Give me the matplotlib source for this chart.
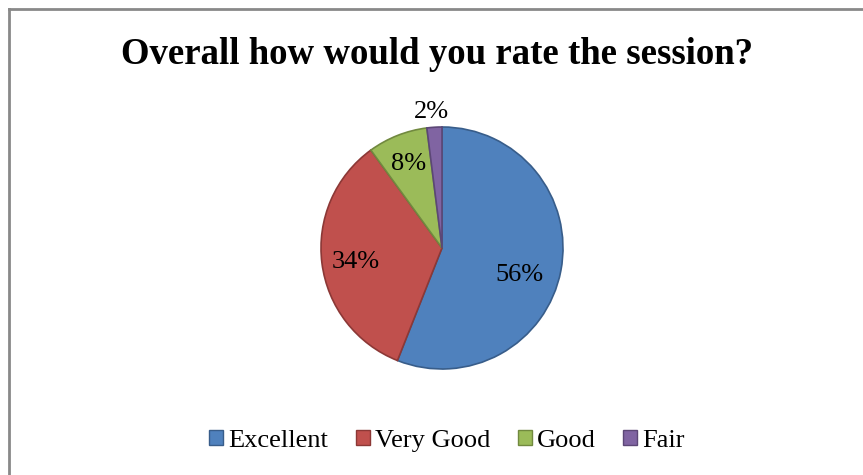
import numpy as np
import matplotlib
matplotlib.use('Agg')
import matplotlib.pyplot as plt
from matplotlib.patches import Patch
from matplotlib.lines import Line2D

# survey answers
labels = ['Excellent', 'Very Good', 'Good', 'Fair']
values = [56, 34, 8, 2]
colors = ['#4F81BD', '#C0504D', '#9BBB59', '#8064A2']
edges = ['#385D8A', '#8C3836', '#71893F', '#5C4776']

# where the percent labels sit (radius fraction, angle shift in degrees)
label_dist = [0.68, 0.72, 0.75, 1.13]
label_shift = [-8, 2, 0, 1]

plt.rcParams['font.family'] = ['Liberation Serif', 'DejaVu Serif']

W, H = 863, 475
fig = plt.figure(figsize=(W / 100, H / 100), dpi=100)

# chart border (left + top only visible)
fig.add_artist(Line2D([9 / W, 9 / W], [0, 1 - 9 / H], color='#898989', lw=2))
fig.add_artist(Line2D([9 / W, 1], [1 - 9 / H, 1 - 9 / H], color='#898989', lw=2))

cx, cy, r = 442, 248, 121
ax = fig.add_axes([(cx - r) / W, (H - cy - r) / H, 2 * r / W, 2 * r / H])
wedges, _ = ax.pie(values, colors=colors, startangle=90, counterclock=False,
                   radius=1, wedgeprops=dict(linewidth=1.2))
for w, ec in zip(wedges, edges):
    w.set_edgecolor(ec)
ax.set_xlim(-1, 1)
ax.set_ylim(-1, 1)
ax.axis('off')

for w, v, d, s in zip(wedges, values, label_dist, label_shift):
    mid = np.deg2rad((w.theta1 + w.theta2) / 2 + s)
    ax.text(d * np.cos(mid), d * np.sin(mid), f'{v}%', ha='center', va='center',
            fontsize=19, color='black', clip_on=False)

fig.text(437 / W, 1 - 55 / H, 'Overall how would you rate the session?',
         ha='center', va='center', fontsize=26.5, fontweight='bold')

handles = [Patch(facecolor=c, edgecolor=e, lw=1) for c, e in zip(colors, edges)]
fig.legend(handles, labels, loc='center', bbox_to_anchor=(447 / W, 1 - 441 / H),
           ncol=4, frameon=False, fontsize=19, handlelength=0.53, handleheight=0.53,
           handletextpad=0.19, columnspacing=1.05, borderpad=0)

fig.savefig('out.png', dpi=100)
